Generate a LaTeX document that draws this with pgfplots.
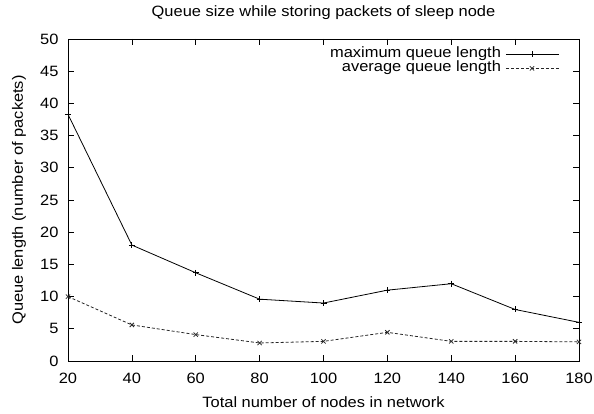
\documentclass[border=0pt]{standalone}
\usepackage{fontspec}
\setmainfont{Liberation Sans}[FakeStretch=1.1]
\usepackage{pgfplots}
\pgfplotsset{compat=1.18}
\begin{document}
\begin{tikzpicture}
\path[use as bounding box] (0,0) rectangle (594bp,414bp);
\begin{axis}[
  at={(68bp,53bp)}, anchor=south west,
  scale only axis, width=511bp, height=322bp,
  xmin=20, xmax=180, ymin=0, ymax=50,
  xtick={20,40,...,180}, ytick={0,5,...,50},
  tick align=inside, xtick pos=both, ytick pos=both,
  major tick length=6bp,
  axis line style={line width=0.8bp},
  tick style={line width=0.6bp, black},
  /pgf/number format/assume math mode=true,
  tick label style={font=\fontsize{15}{18}\selectfont},
  xticklabel style={anchor=center, yshift=-17.5bp},
  yticklabel style={anchor=east, xshift=-6bp},
  title={Queue size while storing packets of sleep node},
  title style={at={(axis description cs:0.5,1.063)}, anchor=center, font=\fontsize{15}{18}\selectfont},
  xlabel={Total number of nodes in network},
  xlabel style={at={(axis description cs:0.5,-0.127)}, anchor=center, font=\fontsize{15}{18}\selectfont},
  ylabel={Queue length (number of packets)},
  ylabel style={at={(axis description cs:-0.0959,0.5)}, anchor=center, font=\fontsize{15}{18}\selectfont},
  legend plot pos=right,
  legend cell align=right,
  legend image code/.code={
    \path[draw=none, fill=none] (0bp,-2bp) rectangle (5bp,2bp);
    \draw[mark repeat=2,mark phase=2,#1] plot coordinates {(5bp,0bp) (31bp,0bp) (58bp,0bp)};
  },
  legend style={draw=none, fill=none, at={(axis description cs:0.962,0.973)}, anchor=north east,
    inner sep=0pt, row sep=1bp, column sep=0pt,
    nodes={inner sep=0bp, text height=10bp, text depth=3bp}, font=\fontsize{15}{18}\selectfont},
]
\addplot[black, line width=0.8bp, mark=+, mark size=3bp, mark options={solid}] coordinates {
  (20,38.3) (40,18.0) (60,13.7) (80,9.6) (100,9.0) (120,11.0) (140,12.0) (160,8.0) (180,6.0)
};
\addlegendentry{maximum queue length}
\addplot[black!85, line width=0.8bp, dash pattern=on 3bp off 2bp, mark=x, mark size=3bp, mark options={solid}] coordinates {
  (20,10.0) (40,5.6) (60,4.1) (80,2.8) (100,3.05) (120,4.45) (140,3.05) (160,3.05) (180,2.97)
};
\addlegendentry{average queue length}
\end{axis}
\end{tikzpicture}
\end{document}
